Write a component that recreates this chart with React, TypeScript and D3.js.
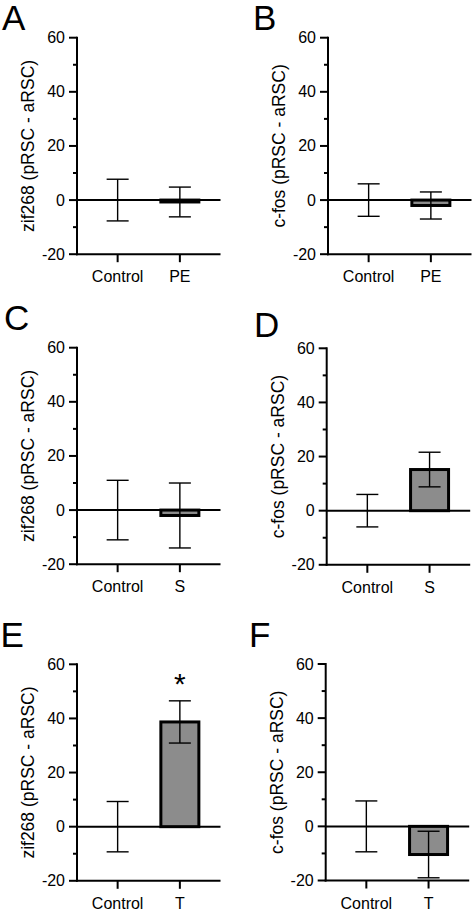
import React from "react";
import * as d3 from "d3";

// ---- data ----
const panelLetters = ["A", "B", "C", "D", "E", "F"];
const yLabels = [
  "zif268 (pRSC - aRSC)",
  "c-fos (pRSC - aRSC)",
  "zif268 (pRSC - aRSC)",
  "c-fos (pRSC - aRSC)",
  "zif268 (pRSC - aRSC)",
  "c-fos (pRSC - aRSC)",
];
const treatmentNames = ["PE", "PE", "S", "S", "T", "T"];
const controlMeans = [0, 0, 0, 0, 0, 0];
const controlSems = [7.7, 6, 11, 6, 9.3, 9.4];
const treatmentMeans = [-0.7, -2, -2, 15.2, 38.7, -10.4];
const treatmentSems = [5.5, 5, 12, 6.4, 7.8, 8.6];
const significance = ["", "", "", "", "*", ""];
const yTicks = [-20, 0, 20, 40, 60];
const yMinorTicks = [-10, 10, 30, 50];
const yDomain = [-20, 60];

// ---- layout ----
const panelLeft = [77, 328, 77, 326.7, 77, 325.7];
const panelTop = [37.7, 37.7, 347.7, 348.3, 664.3, 664];
const panelHeight = 216.5;
const panelWidth = 143.5;
const letterPos = [
  [2, 30],
  [253, 30],
  [4, 330],
  [254, 336.5],
  [0.5, 646.5],
  [249, 646.5],
];

const FONT = "Arial, 'Liberation Sans', Helvetica, sans-serif";

function Panel({ i }: { i: number }) {
  const left = panelLeft[i];
  const top = panelTop[i];
  const bottom = top + panelHeight;
  const right = left + panelWidth;
  const y = d3.scaleLinear().domain(yDomain).range([bottom, top]);
  const cats = ["Control", treatmentNames[i]];
  const x = d3.scalePoint<string>().domain(cats).range([left, right]).padding(0.653);
  const means = [controlMeans[i], treatmentMeans[i]];
  const sems = [controlSems[i], treatmentSems[i]];
  const barW = 38;
  const capW = 22;
  return (
    <g>
      <text
        x={letterPos[i][0]}
        y={letterPos[i][1]}
        fontSize={35}
        fontFamily={FONT}
        fill="#000"
      >
        {panelLetters[i]}
      </text>
      <text
        transform={`translate(${left - 49},${(top + bottom) / 2}) rotate(-90)`}
        textAnchor="middle"
        dominantBaseline="central"
        fontSize={17.5}
        fontFamily={FONT}
        fill="#000"
      >
        {yLabels[i]}
      </text>
      {/* zero line */}
      <line x1={left} x2={right} y1={y(0)} y2={y(0)} stroke="#000" strokeWidth={2} />
      {/* bars */}
      {cats.map((c, k) => {
        const m = means[k];
        if (Math.abs(m) < 0.01) return null;
        const y0 = Math.min(y(0), y(m));
        const h = Math.abs(y(0) - y(m));
        return (
          <rect
            key={"b" + k}
            x={(x(c) as number) - barW / 2}
            y={y0}
            width={barW}
            height={h}
            fill="#8c8c8c"
            stroke="#000"
            strokeWidth={3}
          />
        );
      })}
      {/* error bars */}
      {cats.map((c, k) => {
        const cx = x(c) as number;
        const hi = y(means[k] + sems[k]);
        const lo = y(means[k] - sems[k]);
        return (
          <g key={"e" + k} stroke="#000" strokeWidth={1.4}>
            <line x1={cx} x2={cx} y1={hi} y2={lo} />
            <line x1={cx - capW / 2} x2={cx + capW / 2} y1={hi} y2={hi} />
            <line x1={cx - capW / 2} x2={cx + capW / 2} y1={lo} y2={lo} />
          </g>
        );
      })}
      {/* significance */}
      {cats.map((c, k) =>
        k === 1 && significance[i] ? (
          <text
            key={"s" + k}
            x={x(c) as number}
            y={y(means[k] + sems[k]) - 6.5}
            textAnchor="middle"
            fontSize={30}
            fontFamily={FONT}
            fill="#000"
          >
            {significance[i]}
          </text>
        ) : null
      )}
      {/* y axis */}
      <line x1={left} x2={left} y1={top - 1} y2={bottom + 1} stroke="#000" strokeWidth={2} />
      {yTicks.map((t) => (
        <g key={"yt" + t}>
          <line x1={left - 8} x2={left} y1={y(t)} y2={y(t)} stroke="#000" strokeWidth={2} />
          <text
            x={left - 12}
            y={y(t)}
            textAnchor="end"
            dominantBaseline="central"
            fontSize={16}
            fontFamily={FONT}
            fill="#000"
          >
            {t}
          </text>
        </g>
      ))}
      {yMinorTicks.map((t) => (
        <line key={"ym" + t} x1={left - 4} x2={left} y1={y(t)} y2={y(t)} stroke="#000" strokeWidth={2} />
      ))}
      {/* x axis */}
      <line x1={left - 1} x2={right} y1={bottom} y2={bottom} stroke="#000" strokeWidth={2} />
      {cats.map((c) => (
        <g key={"xt" + c}>
          <line
            x1={x(c) as number}
            x2={x(c) as number}
            y1={bottom}
            y2={bottom + 8}
            stroke="#000"
            strokeWidth={2}
          />
          <text
            x={x(c) as number}
            y={bottom + 28}
            textAnchor="middle"
            fontSize={16}
            fontFamily={FONT}
            fill="#000"
          >
            {c}
          </text>
        </g>
      ))}
    </g>
  );
}

export default function App() {
  return (
    <div style={{ position: "absolute", left: 0, top: 0 }}>
      <svg width={475} height={911} style={{ display: "block", background: "#fff" }}>
        <rect width={475} height={911} fill="#fff" />
        {panelLetters.map((_, i) => (
          <Panel key={i} i={i} />
        ))}
      </svg>
    </div>
  );
}
